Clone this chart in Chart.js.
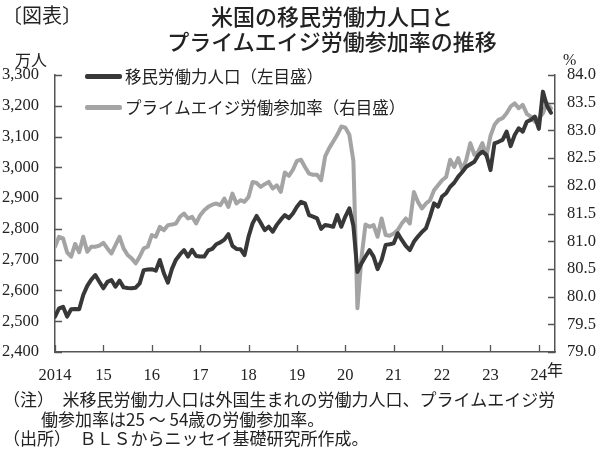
<!DOCTYPE html>
<html><head><meta charset="utf-8">
<script src="https://cdn.jsdelivr.net/npm/chart.js@4.4.1/dist/chart.umd.min.js"></script>
<style>
body{margin:0;width:600px;height:451px;overflow:hidden;background:#fff;font-family:"Noto Sans CJK JP",sans-serif;}
#wrap{position:relative;width:600px;height:451px;}
canvas{position:absolute;left:0;top:0;}
.t{position:absolute;white-space:nowrap;color:#222;}
.ln{position:absolute;height:5px;border-radius:2px;}
</style></head><body>
<div id="wrap">
<canvas id="c" width="600" height="451"></canvas>
<div class="t" style="left:2px;top:2px;font-size:20px;line-height:26px;">〔図表〕</div>
<div class="t" style="left:0;width:664px;text-align:center;top:3px;font-size:22px;line-height:25px;font-weight:500;">米国の移民労働力人口と<br>プライムエイジ労働参加率の推移</div>
<div class="t" style="left:15px;top:49px;font-size:16px;line-height:20px;">万人</div>
<div class="t" style="left:563px;top:50px;font-size:16px;line-height:20px;font-family:'Liberation Serif',serif;">%</div>
<div class="ln" style="left:85px;top:74px;width:37px;background:#383838;"></div>
<div class="t" style="left:125px;top:65px;font-size:16.5px;line-height:22px;">移民労働力人口（左目盛）</div>
<div class="ln" style="left:85px;top:105px;width:37px;background:#a4a4a4;"></div>
<div class="t" style="left:125px;top:96px;font-size:16.5px;line-height:22px;">プライムエイジ労働参加率（右目盛）</div>
<div class="t" style="left:547px;top:359px;font-size:16px;line-height:20px;">年</div>
<div class="t" style="left:3px;top:388px;font-size:17px;line-height:21px;">（注）　米移民労働力人口は外国生まれの労働力人口、プライムエイジ労</div>
<div class="t" style="left:41px;top:408px;font-size:17px;line-height:21px;">働参加率は25 ～ 54歳の労働参加率。</div>
<div class="t" style="left:3px;top:427px;font-size:17px;line-height:21px;">（出所）　ＢＬＳからニッセイ基礎研究所作成。</div>
</div>
<script>
// Monthly data, Jan 2014 – Apr 2024
const immigrantLabor = [
2515,2542,2547,2515,2539,2540,2539,2585,2615,2635,2650,2628,
2607,2628,2634,2612,2632,2610,2608,2607,2609,2623,2666,2668,
2669,2664,2699,2656,2625,2670,2700,2717,2731,2710,2732,2712,
2710,2710,2730,2735,2750,2756,2765,2783,2745,2735,2734,2715,
2775,2818,2842,2820,2796,2807,2791,2813,2830,2845,2835,2850,
2872,2888,2883,2845,2840,2834,2800,2813,2810,2807,2845,2807,
2840,2867,2810,2660,2688,2710,2731,2710,2669,2699,2748,2750,
2753,2786,2764,2745,2731,2758,2775,2790,2802,2840,2883,2872,
2905,2916,2937,2950,2970,2985,3002,3010,3018,3040,3051,3040,
2991,3078,3083,3089,3116,3069,3105,3127,3116,3148,3154,3165,
3125,3246,3200,3177];
const primeAgeLFPR = [
80.90,81.08,81.05,80.80,80.72,80.95,80.80,81.08,80.81,80.90,80.90,80.92,
80.97,80.87,80.78,80.93,81.08,80.87,80.75,80.69,80.60,80.72,80.87,80.90,
81.11,81.08,81.26,81.20,81.29,81.30,81.32,81.44,81.50,81.41,81.44,81.32,
81.47,81.56,81.62,81.66,81.68,81.65,81.77,81.62,81.86,81.68,81.74,81.71,
81.80,82.07,82.05,81.98,82.03,82.07,81.95,82.01,81.89,82.24,82.18,82.29,
82.45,82.47,82.34,82.22,82.20,82.20,82.10,82.53,82.68,82.80,82.92,83.07,
83.05,82.92,82.45,79.79,80.70,81.30,81.26,81.29,81.08,81.41,81.11,81.10,
81.14,81.20,81.32,81.41,81.32,81.89,81.71,81.59,81.68,81.74,81.92,82.01,
82.10,82.16,82.47,82.34,82.50,82.29,82.47,82.77,82.56,82.62,82.77,82.53,
82.90,83.10,83.19,83.22,83.31,83.43,83.49,83.40,83.46,83.30,83.25,83.16,
83.22,83.31,83.49,83.40];
const yearTickMonths = [0,12,24,36,48,60,72,84,96,108,120];
const yearTickLabels = ['2014','15','16','17','18','19','20','21','22','23','24'];
const leftTicks = [2400,2500,2600,2700,2800,2900,3000,3100,3200,3300];
const rightTicks = [79.0,79.5,80.0,80.5,81.0,81.5,82.0,82.5,83.0,83.5,84.0];

const toPts = arr => arr.map((v,i)=>({x:i,y:v}));
const axisColor = '#555';
const numFont = {family:"'Liberation Serif', serif", size:16.5};

const inTicks = {
  id:'inTicks',
  afterDraw(chart){
    const ctx = chart.ctx, a = chart.chartArea;
    ctx.save();
    ctx.strokeStyle = axisColor; ctx.lineWidth = 1.3;
    const L = 7;
    const y = chart.scales.y, y1 = chart.scales.y1, x = chart.scales.x;
    ctx.beginPath();
    y.ticks.forEach(t=>{const p=Math.round(y.getPixelForValue(t.value))+0.5; ctx.moveTo(a.left,p); ctx.lineTo(a.left+L,p);});
    y1.ticks.forEach(t=>{const p=Math.round(y1.getPixelForValue(t.value))+0.5; ctx.moveTo(a.right,p); ctx.lineTo(a.right-L,p);});
    x.ticks.forEach(t=>{const p=Math.round(x.getPixelForValue(t.value))+0.5; ctx.moveTo(p,a.bottom); ctx.lineTo(p,a.bottom-L);});
    ctx.stroke();
    ctx.restore();
  }
};

new Chart(document.getElementById('c'), {
  type:'line',
  data:{datasets:[
    {label:'移民労働力人口（左目盛）', data:toPts(immigrantLabor), yAxisID:'y', borderColor:'#383838', borderWidth:4, pointRadius:0, tension:0, borderJoinStyle:'round', borderCapStyle:'round'},
    {label:'プライムエイジ労働参加率（右目盛）', data:toPts(primeAgeLFPR), yAxisID:'y1', borderColor:'#a4a4a4', borderWidth:4, pointRadius:0, tension:0, borderJoinStyle:'round', borderCapStyle:'round'}
  ]},
  options:{
    responsive:false, animation:false, devicePixelRatio:1,
    layout:{padding:{top:75,bottom:0,left:0,right:0}},
    plugins:{legend:{display:false}, tooltip:{enabled:false}},
    scales:{
      x:{type:'linear', min:0, max:124,
        grid:{display:false}, border:{display:true,color:axisColor,width:1.5},
        afterBuildTicks:s=>{s.ticks = yearTickMonths.map(v=>({value:v}));},
        afterFit:s=>{s.height = 99;},
        ticks:{color:'#222', font:numFont, padding:6, maxRotation:0, autoSkip:false,
          callback:(v)=>yearTickLabels[yearTickMonths.indexOf(v)]}},
      y:{type:'linear', position:'left', min:2400, max:3300,
        grid:{display:false}, border:{display:true,color:axisColor,width:1.5},
        afterBuildTicks:s=>{s.ticks = leftTicks.map(v=>({value:v}));},
        afterFit:s=>{s.width = 55;},
        ticks:{color:'#222', font:numFont, padding:8,
          callback:v=>v.toLocaleString('en-US')}},
      y1:{type:'linear', position:'right', min:79, max:84,
        grid:{display:false}, border:{display:true,color:axisColor,width:1.5},
        afterBuildTicks:s=>{s.ticks = rightTicks.map(v=>({value:v}));},
        afterFit:s=>{s.width = 45;},
        ticks:{color:'#222', font:numFont, padding:4,
          callback:v=>v.toFixed(1)}}
    }
  },
  plugins:[inTicks]
});
</script>
</body></html>
